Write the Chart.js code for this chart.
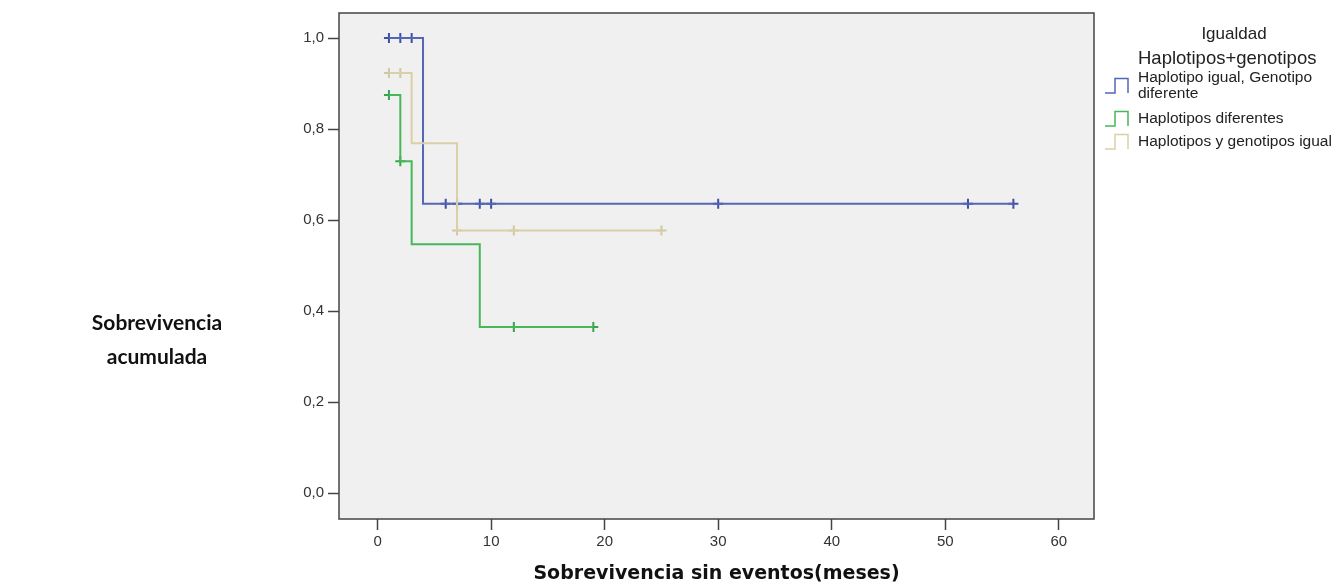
<!DOCTYPE html>
<html lang="es">
<head>
<meta charset="utf-8">
<title>Sobrevivencia acumulada</title>
<script src="https://cdn.jsdelivr.net/npm/chart.js@4.4.1/dist/chart.umd.min.js"></script>
<style>
  html, body { margin: 0; padding: 0; background: #ffffff; }
  #wrap { position: relative; width: 1338px; height: 585px; overflow: hidden; }
  #chart { position: absolute; left: 0; top: 0; }
  #ytitle {
    position: absolute; left: 82px; top: 305px; width: 150px;
    text-align: center; font-family: Lato, "Open Sans", sans-serif; font-weight: bold;
    font-size: 21px; line-height: 34px; color: #111;
  }
  .lg { position: absolute; font-family: "Liberation Sans", Arial, sans-serif; color: #222; white-space: nowrap; }
  .lg.head { font-size: 17px; line-height: 20px; }
  .lg.item { font-size: 15.5px; line-height: 16px; }
  .sw { position: absolute; }
</style>
</head>
<body>
<div id="wrap">
  <canvas id="chart" width="1338" height="585"></canvas>
  <div id="ytitle">Sobrevivencia<br>acumulada</div>
  <div id="legend"></div>
</div>
<script>
// Kaplan-Meier curves: step times and survival after each step
const groupNames = ["Haplotipo igual, Genotipo diferente", "Haplotipos diferentes", "Haplotipos y genotipos igual"];
const groupColors = ["#5566b8", "#46b85a", "#d9d0a8"];
const censorColors = ["#3f4fa6", "#3aa34e", "#d2c7a0"];

const blueStepT = [1, 4, 56];
const blueStepS = [1.0, 0.636, 0.636];
const blueCensorT = [1, 2, 3, 6, 7, 9, 10, 30, 52, 56];

const greenStepT = [1, 2, 3, 9, 19];
const greenStepS = [0.875, 0.729, 0.547, 0.365, 0.365];
const greenCensorT = [1, 2, 12, 19];

const tanStepT = [1, 3, 7, 25];
const tanStepS = [0.923, 0.769, 0.577, 0.577];
const tanCensorT = [1, 2, 7, 12, 25];

const xTickValues = [0, 10, 20, 30, 40, 50, 60];
const yTickValues = [0, 0.2, 0.4, 0.6, 0.8, 1.0];

const stepT = [blueStepT, greenStepT, tanStepT];
const stepS = [blueStepS, greenStepS, tanStepS];
const censorT = [blueCensorT, greenCensorT, tanCensorT];

// survival at time t
function survivalAt(ts, ss, t) {
  let s = ss[0];
  for (let i = 0; i < ts.length; i++) { if (ts[i] <= t) s = ss[i]; }
  return s;
}

const datasets = [];
// draw order: tan underneath, then green, then blue on top
[2, 1, 0].forEach(g => {
  datasets.push({
    label: groupNames[g],
    data: stepT[g].map((t, i) => ({ x: t, y: stepS[g][i] })),
    showLine: true,
    stepped: 'before',
    borderColor: groupColors[g],
    borderWidth: 2,
    pointRadius: 0,
    fill: false
  });
  datasets.push({
    label: groupNames[g] + ' (censurado)',
    data: censorT[g].map(t => ({ x: t, y: survivalAt(stepT[g], stepS[g], t) })),
    showLine: false,
    pointStyle: 'cross',
    pointRadius: 5,
    pointBorderWidth: 2,
    pointBorderColor: censorColors[g],
    pointBackgroundColor: 'transparent'
  });
});

// plot frame: grey panel with a full dark border
const framePlugin = {
  id: 'frame',
  beforeDatasetsDraw(chart) {
    const { ctx, chartArea: a } = chart;
    ctx.save();
    ctx.fillStyle = '#f0f0f0';
    ctx.fillRect(a.left, a.top, a.right - a.left, a.bottom - a.top);
    ctx.restore();
  },
  afterDraw(chart) {
    const { ctx, chartArea: a } = chart;
    ctx.save();
    ctx.strokeStyle = '#444';
    ctx.lineWidth = 1.5;
    ctx.strokeRect(a.left, a.top, a.right - a.left, a.bottom - a.top);
    ctx.restore();
  }
};

const tickFont = { family: '"Liberation Sans", Arial, sans-serif', size: 15 };

new Chart(document.getElementById('chart'), {
  type: 'scatter',
  data: { datasets },
  plugins: [framePlugin],
  options: {
    responsive: false,
    animation: false,
    layout: { padding: { left: 0, top: 13, right: 244, bottom: 0 } },
    plugins: { legend: { display: false }, tooltip: { enabled: false } },
    scales: {
      x: {
        type: 'linear', min: -3.4, max: 63.1,
        afterBuildTicks(s) { s.ticks = xTickValues.map(v => ({ value: v })); },
        afterFit(s) { s.height = 66; },
        grid: { drawOnChartArea: false, tickLength: 11, tickColor: '#444', tickWidth: 1.5 },
        border: { display: false },
        ticks: { color: '#333', font: tickFont, padding: 3, maxRotation: 0, callback: v => String(v) },
        title: {
          display: true, text: 'Sobrevivencia sin eventos(meses)', color: '#111',
          font: { family: '"DejaVu Sans", sans-serif', size: 19, weight: 'bold' },
          padding: { top: 0, bottom: 0 }
        }
      },
      y: {
        type: 'linear', min: -0.057, max: 1.055,
        afterBuildTicks(s) { s.ticks = yTickValues.map(v => ({ value: v })); },
        afterFit(s) { s.width = 339; },
        grid: { drawOnChartArea: false, tickLength: 11, tickColor: '#444', tickWidth: 1.5 },
        border: { display: false },
        ticks: { color: '#333', font: tickFont, padding: 4, callback: v => v.toFixed(1).replace('.', ',') }
      }
    }
  }
});

// legend: title lines, step-shaped swatches and entry labels
const legendTitle = ["Igualdad", "Haplotipos+genotipos"];
const legendLines = [["Haplotipo igual, Genotipo", "diferente"], ["Haplotipos diferentes"], ["Haplotipos y genotipos igual"]];
const wrap = document.getElementById('legend');

function addText(cls, text, left, top, extra) {
  const d = document.createElement('div');
  d.className = 'lg ' + cls;
  d.textContent = text;
  d.style.left = left + 'px';
  d.style.top = top + 'px';
  if (extra) Object.assign(d.style, extra);
  wrap.appendChild(d);
  return d;
}

addText('head', legendTitle[0], 1134, 24, { width: '200px', textAlign: 'center' });
addText('head', legendTitle[1], 1138, 48, { fontSize: '18.5px' });

const entryTops = [69, 110, 133];
const swatchTops = [77, 110, 133];
legendLines.forEach((lines, g) => {
  lines.forEach((ln, k) => addText('item', ln, 1138, entryTops[g] + k * 16));
  const sw = document.createElement('canvas');
  sw.className = 'sw';
  sw.width = 26; sw.height = 18;
  sw.style.left = '1104px';
  sw.style.top = swatchTops[g] + 'px';
  const c = sw.getContext('2d');
  c.strokeStyle = groupColors[g];
  c.lineWidth = 1.5;
  c.beginPath();
  c.moveTo(1, 16); c.lineTo(11, 16); c.lineTo(11, 1.5); c.lineTo(24, 1.5); c.lineTo(24, 16);
  c.stroke();
  wrap.appendChild(sw);
});
</script>
</body>
</html>
